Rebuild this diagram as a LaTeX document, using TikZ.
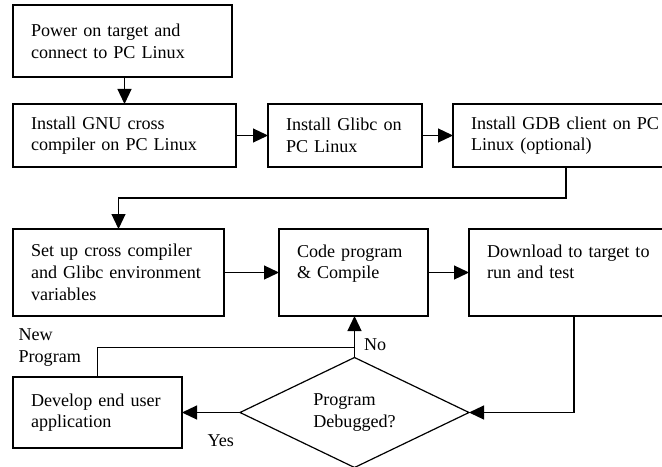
\documentclass[tikz,border=0pt]{standalone}
\usepackage{fontspec}
\setmainfont{Liberation Serif}
\usetikzlibrary{arrows.meta}
\usetikzlibrary{positioning}
\usetikzlibrary{shapes.geometric}
\tikzset{arr/.style = {-{Triangle[length=15bp,width=14bp]}}}
\tikzset{
stepbox/.style = {draw, rectangle, align=left, inner xsep=18bp,
                  inner ysep=0pt, outer sep=0pt},
decision/.style = {draw, diamond, shape aspect=2, align=left,
                   inner sep=0pt, outer sep=0pt,
                   minimum width=229bp, minimum height=110bp}
}

\begin{document}
\begin{tikzpicture}[x=1bp, y=-1bp, line width=1.2bp,
                    font=\fontsize{18.1bp}{21.7bp}\selectfont]
        \clip (0,0) rectangle (662,467);
        \fill[white] (0,0) rectangle (662,467);
        
        \node[stepbox, text width=183bp, minimum height=72bp, anchor=north west] (b1) at (13,5) {Power on target and\\connect to PC Linux};
        \node[stepbox, text width=187bp, minimum height=63bp, below=27bp of b1.south west, anchor=north west] (b2) {Install GNU cross\\compiler on PC Linux};
        \node[stepbox, text width=118bp, minimum height=63bp, right=32bp of b2] (b3) {Install~Glibc~on\\PC Linux};
        \node[stepbox, text width=190bp, minimum height=63bp, right=31bp of b3] (b4) {Install~GDB~client~on~PC\\Linux (optional)};
        \node[stepbox, text width=175bp, minimum height=87bp, below=62bp of b2.south west, anchor=north west] (b5) {Set up cross compiler\\and~Glibc~environment\\variables};
        \node[stepbox, text width=113bp, minimum height=87bp, right=55bp of b5] (b6) {Code~program\\\& Compile\\\mbox{}};
        \node[stepbox, text width=174bp, minimum height=87bp, right=41bp of b6] (b7) {Download~to~target~to\\run and test\\\mbox{}};
        \node[stepbox, text width=133bp, minimum height=71bp, below=61bp of b5.south west, anchor=north west] (b8) {Develop~end~user\\application};
        \node[decision, right=58bp of b8] (dia) {Program\\Debugged?};
        
        \draw[arr] (b1.south -| b2) -- (b2);
        \draw[arr] (b2) -- (b3);
        \draw[arr] (b3) -- (b4);
        \draw[arr] (b4.south) -- ++(0,31) -| (b5.north);
        \draw[arr] (b5) -- (b6);
        \draw[arr] (b6) -- (b7);
        \draw[arr] (b7.south) |- (dia.east);
        \draw[arr] (dia.north) -- node[pos=0.3, right=9bp, inner sep=0pt] {No} (dia.north |- b6.south);
        \draw (dia.north) ++(0,-10) -| node[pos=0.5, left=16bp, inner sep=0pt, align=left] {New\\Program} (b8.north);
        \draw[arr] (dia.west) -- node[pos=0.33, below=22bp, inner sep=0pt] {Yes} (b8.east);
\end{tikzpicture}
\end{document}
